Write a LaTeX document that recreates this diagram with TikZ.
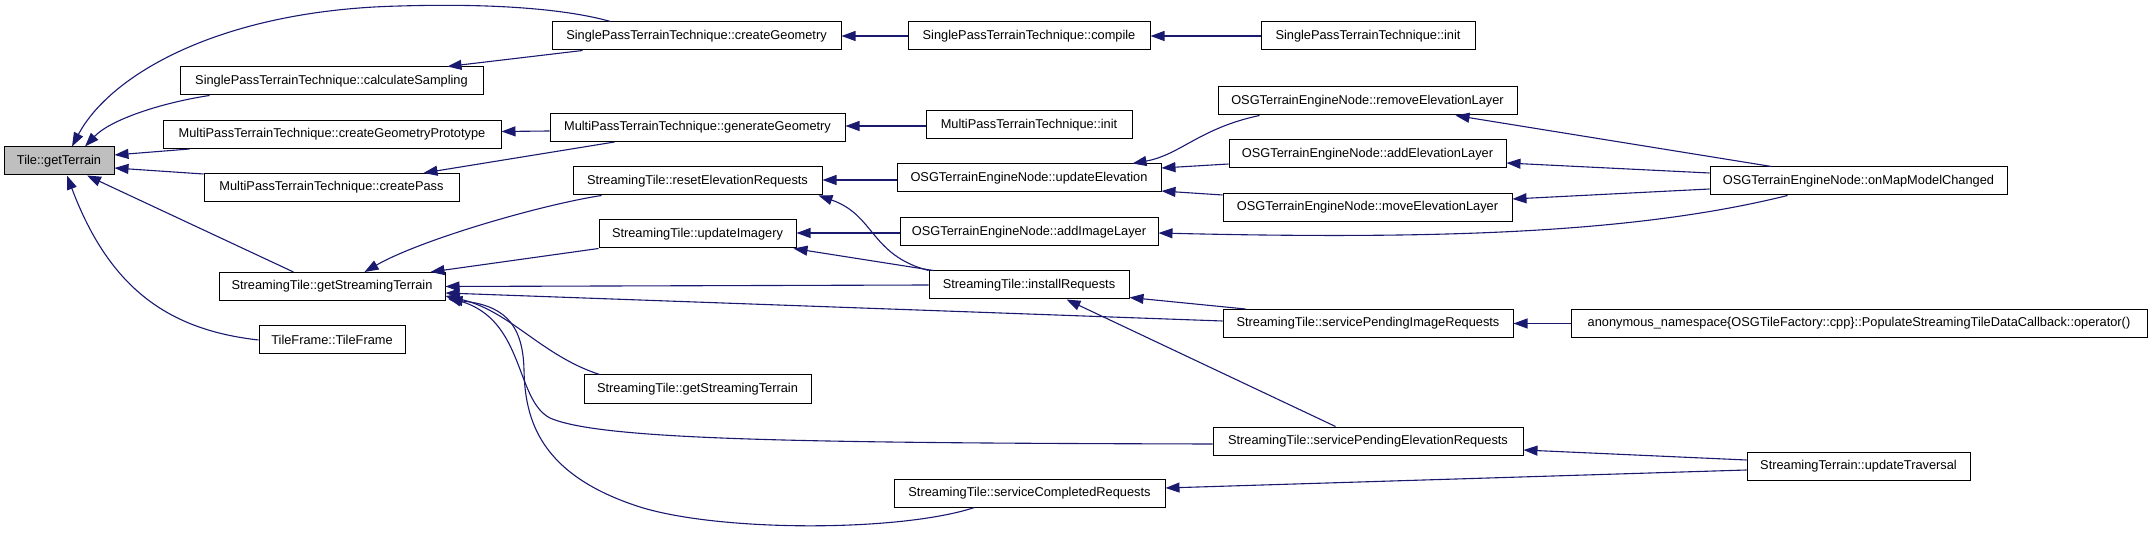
\documentclass[tikz,border=0pt]{standalone}
\usepackage{fontspec}
\setmainfont{Liberation Sans}
\usepackage{xcolor}
\usepackage{tikz}
\usetikzlibrary{positioning,calc,arrows.meta}
\definecolor{EdgeNavy}{RGB}{25,25,112}
\definecolor{RootGray}{RGB}{191,191,191}

\begin{document}
\begin{tikzpicture}[
  x=1pt, y=-1pt,
  fn/.style={rectangle, draw=black, fill=white, line width=1pt, minimum height=28pt, inner sep=0pt, font=\fontsize{12.8}{15}\selectfont},
  root/.style={fn, fill=RootGray},
  call/.style={{Triangle[length=14pt,width=10pt]}-, draw=EdgeNavy, line width=1.1pt}
]
  \useasboundingbox (0,0) rectangle (2152,534);

  % Nodes
  \node[root, minimum width=110pt] (gettr) at (59,161) {Tile::getTerrain};

  \node[fn, minimum width=303pt] (calcsamp) at (331.5,81) {SinglePassTerrainTechnique::calculateSampling};
  \node[fn, minimum width=338pt] (geomproto) at (332,134.5) {MultiPassTerrainTechnique::createGeometryPrototype};
  \node[fn, minimum width=255pt] (createpass) at (331.5,187.5) {MultiPassTerrainTechnique::createPass};
  \node[fn, minimum width=226pt] (getst) at (332,286.5) {StreamingTile::getStreamingTerrain};
  \node[fn, minimum width=146pt] (tileframe) at (332,340) {TileFrame::TileFrame};

  \node[fn, minimum width=289pt] (creategeom) at (696.5,36) {SinglePassTerrainTechnique::createGeometry};
  \node[fn, minimum width=295pt] (gengeom) at (697.5,127.5) {MultiPassTerrainTechnique::generateGeometry};
  \node[fn, minimum width=249pt] (resetelev) at (697.5,181) {StreamingTile::resetElevationRequests};
  \node[fn, minimum width=197pt] (updimg) at (697.5,234) {StreamingTile::updateImagery};
  \node[fn, minimum width=227pt] (getstb) at (697.5,389) {StreamingTile::getStreamingTerrain};

  \node[fn, minimum width=242pt] (compile) at (1029,36) {SinglePassTerrainTechnique::compile};
  \node[fn, minimum width=206pt] (mpinit) at (1029,125) {MultiPassTerrainTechnique::init};
  \node[fn, minimum width=264pt] (updelev) at (1029,178) {OSGTerrainEngineNode::updateElevation};
  \node[fn, minimum width=258pt] (addimg) at (1029,232) {OSGTerrainEngineNode::addImageLayer};
  \node[fn, minimum width=200pt] (installreq) at (1029,285) {StreamingTile::installRequests};
  \node[fn, minimum width=271pt] (servcompl) at (1029.5,493) {StreamingTile::serviceCompletedRequests};

  \node[fn, minimum width=214pt] (spinit) at (1368,36) {SinglePassTerrainTechnique::init};
  \node[fn, minimum width=299pt] (removeelev) at (1367.5,101) {OSGTerrainEngineNode::removeElevationLayer};
  \node[fn, minimum width=277pt] (addelev) at (1367.5,154) {OSGTerrainEngineNode::addElevationLayer};
  \node[fn, minimum width=289pt] (moveelev) at (1367.5,207.5) {OSGTerrainEngineNode::moveElevationLayer};
  \node[fn, minimum width=290pt] (servimg) at (1368,323.5) {StreamingTile::servicePendingImageRequests};
  \node[fn, minimum width=310pt] (servelev) at (1368,441) {StreamingTile::servicePendingElevationRequests};

  \node[fn, minimum width=297pt] (onmap) at (1858.5,181) {OSGTerrainEngineNode::onMapModelChanged};
  \node[fn, minimum width=576pt] (anonns) at (1859,323.5) {anonymous\_namespace\{OSGTileFactory::cpp\}::PopulateStreamingTileDataCallback::operator()};
  \node[fn, minimum width=223pt] (updtrav) at (1858.5,466.5) {StreamingTerrain::updateTraversal};

  % Calls into Tile::getTerrain
  \draw[call] ($(gettr.north)+(13,0)$) .. controls (110,75) and (220,10) .. (400,6)
    .. controls (500,3) and (570,10) .. ($(creategeom.north west)+(59,0)$);
  \draw[call] ($(gettr.north)+(26,0)$) .. controls (110,120) and (160,103) .. ($(calcsamp.south west)+(30,0)$);
  \draw[call] ($(gettr.east)+(0,-6)$) -- ($(geomproto.south west)+(27,0)$);
  \draw[call] ($(gettr.east)+(0,7)$) -- ($(createpass.north west)+(0,1)$);
  \draw[call] ($(gettr.south)+(28,0)$) -- ($(getst.north west)+(75,0)$);
  \draw[call] ($(gettr.south)+(8,0)$) .. controls (110,290) and (170,330) .. (tileframe.west);

  % Terrain techniques
  \draw[call] ($(calcsamp.north east)+(-36,0)$) -- ($(creategeom.south west)+(31,0)$);
  \draw[call] ($(geomproto.east)+(0,-3)$) -- ($(gengeom.west)+(0,3.5)$);
  \draw[call] ($(createpass.north east)+(-36,0)$) -- ($(gengeom.south west)+(65,0)$);
  \draw[call] (creategeom.east) -- (compile.west);
  \draw[call] (compile.east) -- (spinit.west);
  \draw[call] ($(gengeom.east)+(0,-1.5)$) -- ($(mpinit.west)+(0,1)$);

  % Engine node
  \draw[call] ($(resetelev.east)+(0,-1)$) -- ($(updelev.west)+(0,2)$);
  \draw[call] ($(updelev.north east)+(-29,0)$) .. controls (1180,155) and (1200,128) .. ($(removeelev.south west)+(42,0)$);
  \draw[call] ($(updelev.east)+(0,-10)$) -- ($(addelev.west)+(0,10)$);
  \draw[call] ($(updelev.east)+(0,13)$) -- ($(moveelev.west)+(0,-12.5)$);
  \draw[call] ($(removeelev.south east)+(-62,0)$) -- ($(onmap.north west)+(62,0)$);
  \draw[call] ($(addelev.east)+(0,9)$) -- ($(onmap.west)+(0,-8)$);
  \draw[call] ($(moveelev.east)+(0,-8.5)$) -- ($(onmap.west)+(0,8)$);
  \draw[call] ($(addimg.east)+(0,1)$) .. controls (1450,240) and (1640,232) .. ($(onmap.south west)+(78,0)$);
  \draw[call] ($(updimg.east)+(0,-1)$) -- ($(addimg.west)+(0,1)$);

  % Streaming tile
  \draw[call] ($(getst.north west)+(146,0)$) .. controls (420,240) and (540,205) .. ($(resetelev.south west)+(29,0)$);
  \draw[call] ($(getst.north east)+(-15,0)$) -- (updimg.south west);
  \draw[call] (getst.east) -- (installreq.west);
  \draw[call] ($(getst.east)+(0,6.5)$) -- ($(servimg.west)+(0,-2.5)$);
  \draw[call] ($(getst.east)+(0,9.5)$) .. controls (510,310) and (540,355) .. ($(getstb.north west)+(16,0)$);
  \draw[call] ($(getst.east)+(2,11)$) .. controls (525,320) and (515,400) .. (550,418)
    .. controls (600,440) and (800,443) .. ($(servelev.west)+(0,3)$);
  \draw[call] ($(getst.east)+(3,13)$) .. controls (500,305) and (523,320) .. (524,370)
    .. controls (525,420) and (540,475) .. (640,507)
    .. controls (720,532) and (900,532) .. ($(servcompl.south west)+(81,0)$);
  \draw[call] ($(resetelev.south east)+(-4,0)$) .. controls (875,215) and (870,255) .. (installreq.north west);
  \draw[call] ($(updimg.south east)+(-3,0)$) -- ($(installreq.north west)+(5,0)$);
  \draw[call] ($(installreq.south east)+(0,-2)$) -- ($(servimg.north west)+(23,0)$);
  \draw[call] ($(installreq.south west)+(138,0)$) -- ($(servelev.north west)+(123,0)$);
  \draw[call] (servimg.east) -- (anonns.west);
  \draw[call] ($(servelev.east)+(0,9)$) -- ($(updtrav.west)+(0,-6.5)$);
  \draw[call] ($(servcompl.east)+(0,-5)$) -- ($(updtrav.west)+(0,3.5)$);
\end{tikzpicture}
\end{document}
